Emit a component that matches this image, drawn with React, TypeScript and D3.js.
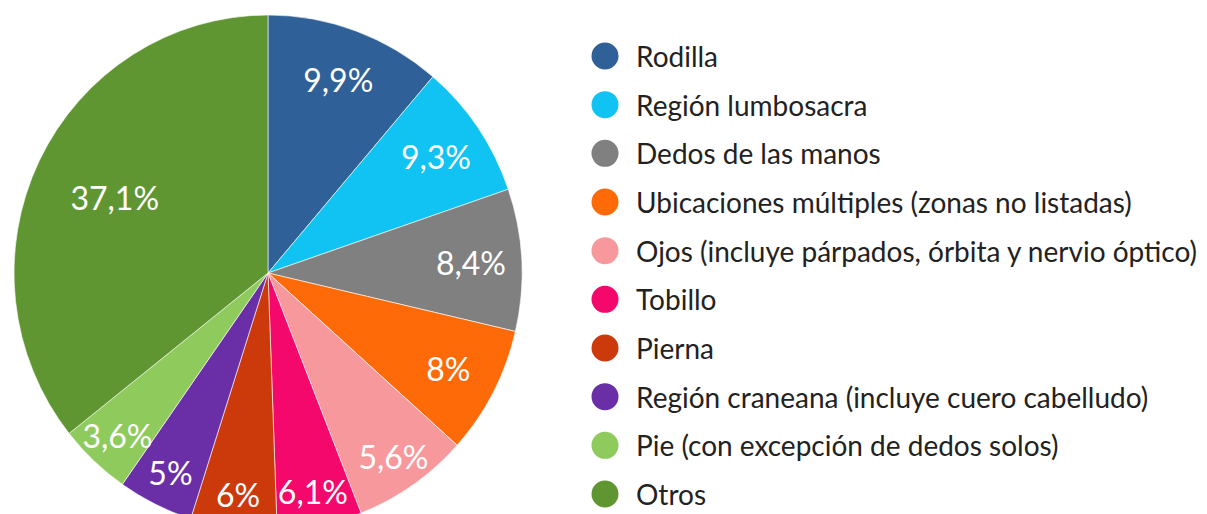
import React from "react";
import * as d3 from "d3";

const categories = [
  "Rodilla",
  "Región lumbosacra",
  "Dedos de las manos",
  "Ubicaciones múltiples (zonas no listadas)",
  "Ojos (incluye párpados, órbita y nervio óptico)",
  "Tobillo",
  "Pierna",
  "Región craneana (incluye cuero cabelludo)",
  "Pie (con excepción de dedos solos)",
  "Otros",
];
// slice sizes (percent of the circle)
const sliceShares = [11.25, 8.5, 8.9, 8.0, 7.4, 5.4, 5.5, 4.8, 4.6, 35.7];
// data labels as printed on the chart
const valueLabels = ["9,9%", "9,3%", "8,4%", "8%", "5,6%", "6,1%", "6%", "5%", "3,6%", "37,1%"];
const labelValues = [9.9, 9.3, 8.4, 8, 5.6, 6.1, 6, 5, 3.6, 37.1];
const colors = [
  "#2F6097",
  "#11C3F2",
  "#808080",
  "#FF6A08",
  "#F7999C",
  "#F5086C",
  "#CC3A0C",
  "#6A2EA6",
  "#8FCA5C",
  "#5F9632",
];

const W = 1207;
const H = 514;
const cx = 268;
const cy = 273;
const RX = 254;
const RY = 258;

export default function App() {
  const items = categories.map((c, i) => ({
    c,
    v: sliceShares[i],
    lv: labelValues[i],
    label: valueLabels[i],
    color: colors[i],
  }));
  const pie = d3.pie<any>().value((d) => d.v).sort(null);
  const arcs = pie(items);
  const arcGen = d3.arc<any>().innerRadius(0).outerRadius(RX);
  const font = "Lato, 'Open Sans', sans-serif";
  const legendY = d3.scalePoint<number>().domain(d3.range(categories.length)).range([56, 494]);

  return (
    <svg width={W} height={H} style={{ position: "absolute", left: 0, top: 0, background: "#fff" }}>
      <g transform={`translate(${cx},${cy}) scale(1,${RY / RX})`}>
        {arcs.map((a, i) => (
          <path key={i} d={arcGen(a) as string} fill={a.data.color} stroke="#fff" strokeWidth={0.6} />
        ))}
      </g>
      <g transform={`translate(${cx},${cy})`}>
        {arcs.map((a, i) => {
          const mid = (a.startAngle + a.endAngle) / 2;
          const frac = a.data.lv > 30 ? 0.67 : a.data.lv >= 8 ? 0.8 : 0.865;
          const x = Math.sin(mid) * RX * frac;
          const y = -Math.cos(mid) * RY * frac;
          return (
            <text
              key={"l" + i}
              x={x}
              y={y}
              textAnchor="middle"
              dominantBaseline="central"
              fill="#fff"
              fontSize={32}
              fontFamily={font}
            >
              {a.data.label}
            </text>
          );
        })}
      </g>
      <g>
        {items.map((d, i) => (
          <g key={"g" + i} transform={`translate(0,${legendY(i)})`}>
            <circle cx={605} cy={0} r={13.5} fill={d.color} />
            <text x={636} y={0} dominantBaseline="central" fontSize={28} fill="#222" fontFamily={font}>
              {d.c}
            </text>
          </g>
        ))}
      </g>
    </svg>
  );
}
